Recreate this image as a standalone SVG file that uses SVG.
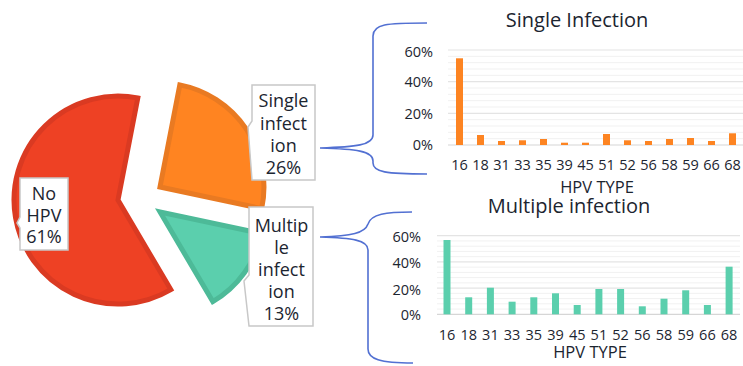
<svg xmlns="http://www.w3.org/2000/svg" width="743" height="366" viewBox="0 0 743 366">
<style>
text{font-family:"Open Sans","Noto Sans","DejaVu Sans",sans-serif;fill:#1c2530}
.lbl{font-size:18px;text-anchor:middle}
.title{font-size:20px;text-anchor:middle}
.ytick{font-size:14.5px;text-anchor:end}
.xtick{font-size:14.5px;text-anchor:middle}
.axt{font-size:16.5px;text-anchor:middle}
.box{fill:#fff;stroke:#c8c8c8;stroke-width:1.5}
.brace{fill:none;stroke:#5270d2;stroke-width:1.6}
.minor{stroke:#f1f1f1;stroke-width:1}
.major{stroke:#e4e4e4;stroke-width:1.2}
.axis{stroke:#d6d6d6;stroke-width:1.2}
.bo{fill:#fd8422}
.bg{fill:#5bcfad}
</style>
<rect width="743" height="366" fill="#fff"/>

<g id="pie">
  <g id="slice-nohpv"><path d="M118,200 L170.8,289.6 A104,104 0 1 1 137.8,97.9 Z" fill="#ee4124" stroke="#da3a22" stroke-width="5" stroke-linejoin="miter"/></g>
  <g id="slice-single"><path d="M160,187 L179.8,84.9 A104,104 0 0 1 261.7,208.6 Z" fill="#ff8421" stroke="#e97a22" stroke-width="5"/></g>
  <g id="slice-multiple"><path d="M160,212 L261.7,233.6 A104,104 0 0 1 212.8,301.6 Z" fill="#5bcfad" stroke="#4dba98" stroke-width="5"/></g>
</g>

<g id="label-nohpv">
  <path class="box" d="M20,178 H68 V250 H20 V228 L17,223 L20,217 Z"/>
  <text class="lbl" x="44" y="200">No</text>
  <text class="lbl" x="44" y="221.5">HPV</text>
  <text class="lbl" x="44" y="243">61%</text>
</g>
<g id="label-single">
  <path class="box" d="M252,85 H315 V180 H252 L248,127 L252,121 Z"/>
  <text class="lbl" x="283.5" y="107">Single</text>
  <text class="lbl" x="283.5" y="129.5">infect</text>
  <text class="lbl" x="283.5" y="152">ion</text>
  <text class="lbl" x="283.5" y="174">26%</text>
</g>
<g id="label-multiple">
  <path class="box" d="M249,207 H313 V326 H249 L244,281 L249,275 Z"/>
  <text class="lbl" x="281.5" y="231.5">Multip</text>
  <text class="lbl" x="281.5" y="253.5">le</text>
  <text class="lbl" x="281.5" y="276">infect</text>
  <text class="lbl" x="281.5" y="298">ion</text>
  <text class="lbl" x="281.5" y="320">13%</text>
</g>

<g id="connectors">
  <path class="brace" d="M427,23 C386,23 373,24 373,36 L373,135 C373,145 356,147 320,148 C356,149 373,151 373,161 L373,163 C373,172 386,174 427,174"/>
  <path class="brace" d="M412,212 C386,212 371,214 368,224 C365,233 352,236 320,237 C352,238 368,240 368,250 L368,349 C368,359 380,363 413,363"/>
</g>

<g id="chart-single">
  <text class="title" x="577" y="27">Single Infection</text>
  <g>
    <line class="minor" x1="448" x2="743" y1="138.67" y2="138.67"/>
    <line class="minor" x1="448" x2="743" y1="132.33" y2="132.33"/>
    <line class="minor" x1="448" x2="743" y1="126" y2="126"/>
    <line class="minor" x1="448" x2="743" y1="119.67" y2="119.67"/>
    <line class="minor" x1="448" x2="743" y1="107" y2="107"/>
    <line class="minor" x1="448" x2="743" y1="100.67" y2="100.67"/>
    <line class="minor" x1="448" x2="743" y1="94.33" y2="94.33"/>
    <line class="minor" x1="448" x2="743" y1="88" y2="88"/>
    <line class="minor" x1="448" x2="743" y1="75.33" y2="75.33"/>
    <line class="minor" x1="448" x2="743" y1="69" y2="69"/>
    <line class="minor" x1="448" x2="743" y1="62.67" y2="62.67"/>
    <line class="minor" x1="448" x2="743" y1="56.33" y2="56.33"/>
    <line class="major" x1="448" x2="743" y1="113.33" y2="113.33"/>
    <line class="major" x1="448" x2="743" y1="81.67" y2="81.67"/>
    <line class="major" x1="448" x2="743" y1="50" y2="50"/>
    <line class="axis" x1="448" x2="743" y1="145" y2="145"/>
  </g>
  <text class="ytick" x="433" y="57">60%</text>
  <text class="ytick" x="433" y="87">40%</text>
  <text class="ytick" x="433" y="118.5">20%</text>
  <text class="ytick" x="433" y="150">0%</text>
  <g>
    <rect class="bo" x="456" y="58.3" width="7" height="86.7"/>
    <rect class="bo" x="477" y="135" width="7" height="10"/>
    <rect class="bo" x="498" y="141" width="7" height="4"/>
    <rect class="bo" x="519" y="140.3" width="7" height="4.7"/>
    <rect class="bo" x="540" y="139" width="7" height="6"/>
    <rect class="bo" x="561" y="142.7" width="7" height="2.3"/>
    <rect class="bo" x="582" y="142.7" width="7" height="2.3"/>
    <rect class="bo" x="603" y="134" width="7" height="11"/>
    <rect class="bo" x="624" y="140.3" width="7" height="4.7"/>
    <rect class="bo" x="645" y="141" width="7" height="4"/>
    <rect class="bo" x="666" y="139" width="7" height="6"/>
    <rect class="bo" x="687" y="138" width="7" height="7"/>
    <rect class="bo" x="708" y="141" width="7" height="4"/>
    <rect class="bo" x="729" y="133.3" width="7" height="11.7"/>
  </g>
  <g>
    <text class="xtick" x="459.5" y="170">16</text>
    <text class="xtick" x="480.5" y="170">18</text>
    <text class="xtick" x="501.5" y="170">31</text>
    <text class="xtick" x="522.5" y="170">33</text>
    <text class="xtick" x="543.5" y="170">35</text>
    <text class="xtick" x="564.5" y="170">39</text>
    <text class="xtick" x="585.5" y="170">45</text>
    <text class="xtick" x="606.5" y="170">51</text>
    <text class="xtick" x="627.5" y="170">52</text>
    <text class="xtick" x="648.5" y="170">56</text>
    <text class="xtick" x="669.5" y="170">58</text>
    <text class="xtick" x="690.5" y="170">59</text>
    <text class="xtick" x="711.5" y="170">66</text>
    <text class="xtick" x="732.5" y="170">68</text>
  </g>
  <text class="axt" x="597" y="192.5">HPV TYPE</text>
</g>

<g id="chart-multiple">
  <text class="title" x="569" y="213">Multiple infection</text>
  <g>
    <line class="minor" x1="437" x2="740" y1="309.06" y2="309.06"/>
    <line class="minor" x1="437" x2="740" y1="303.82" y2="303.82"/>
    <line class="minor" x1="437" x2="740" y1="298.58" y2="298.58"/>
    <line class="minor" x1="437" x2="740" y1="293.34" y2="293.34"/>
    <line class="minor" x1="437" x2="740" y1="282.86" y2="282.86"/>
    <line class="minor" x1="437" x2="740" y1="277.62" y2="277.62"/>
    <line class="minor" x1="437" x2="740" y1="272.38" y2="272.38"/>
    <line class="minor" x1="437" x2="740" y1="267.14" y2="267.14"/>
    <line class="minor" x1="437" x2="740" y1="256.66" y2="256.66"/>
    <line class="minor" x1="437" x2="740" y1="251.42" y2="251.42"/>
    <line class="minor" x1="437" x2="740" y1="246.18" y2="246.18"/>
    <line class="minor" x1="437" x2="740" y1="240.94" y2="240.94"/>
    <line class="major" x1="437" x2="740" y1="288.1" y2="288.1"/>
    <line class="major" x1="437" x2="740" y1="261.9" y2="261.9"/>
    <line class="major" x1="437" x2="740" y1="235.7" y2="235.7"/>
    <line class="axis" x1="437" x2="740" y1="314.3" y2="314.3"/>
  </g>
  <text class="ytick" x="421" y="242">60%</text>
  <text class="ytick" x="421" y="268">40%</text>
  <text class="ytick" x="421" y="294.5">20%</text>
  <text class="ytick" x="421" y="320">0%</text>
  <g>
    <rect class="bg" x="443.5" y="240" width="7" height="74.3"/>
    <rect class="bg" x="465.2" y="297.3" width="7" height="17"/>
    <rect class="bg" x="486.9" y="287.7" width="7" height="26.6"/>
    <rect class="bg" x="508.6" y="301.7" width="7" height="12.6"/>
    <rect class="bg" x="530.3" y="297.3" width="7" height="17"/>
    <rect class="bg" x="552" y="293.3" width="7" height="21"/>
    <rect class="bg" x="573.7" y="305" width="7" height="9.3"/>
    <rect class="bg" x="595.4" y="289" width="7" height="25.3"/>
    <rect class="bg" x="617.1" y="289" width="7" height="25.3"/>
    <rect class="bg" x="638.8" y="306.3" width="7" height="8"/>
    <rect class="bg" x="660.5" y="298.7" width="7" height="15.6"/>
    <rect class="bg" x="682.2" y="290.3" width="7" height="24"/>
    <rect class="bg" x="703.9" y="305" width="7" height="9.3"/>
    <rect class="bg" x="725.6" y="266.7" width="7" height="47.6"/>
  </g>
  <g>
    <text class="xtick" x="447" y="340">16</text>
    <text class="xtick" x="468.7" y="340">18</text>
    <text class="xtick" x="490.4" y="340">31</text>
    <text class="xtick" x="512.1" y="340">33</text>
    <text class="xtick" x="533.8" y="340">35</text>
    <text class="xtick" x="555.5" y="340">39</text>
    <text class="xtick" x="577.2" y="340">45</text>
    <text class="xtick" x="598.9" y="340">51</text>
    <text class="xtick" x="620.6" y="340">52</text>
    <text class="xtick" x="642.3" y="340">56</text>
    <text class="xtick" x="664" y="340">58</text>
    <text class="xtick" x="685.7" y="340">59</text>
    <text class="xtick" x="707.4" y="340">66</text>
    <text class="xtick" x="729.1" y="340">68</text>
  </g>
  <text class="axt" x="590" y="358">HPV TYPE</text>
</g>
</svg>
